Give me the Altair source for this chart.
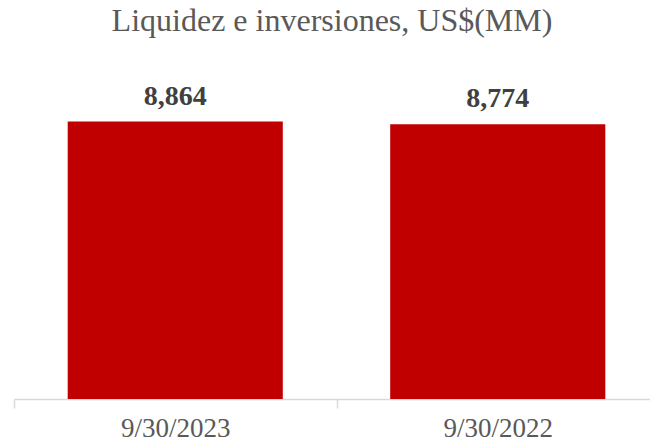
import altair as alt
import pandas as pd

categories = ["9/30/2023", "9/30/2022"]
values = [8864, 8774]
labels = ["8,864", "8,774"]

df = pd.DataFrame({"fecha": categories, "valor": values, "etiqueta": labels})

x = alt.X("fecha:N", sort=categories, title=None,
          scale=alt.Scale(range=[0, 645], paddingInner=0, paddingOuter=0),
          axis=alt.Axis(labelAngle=0, labelFont="Liberation Serif", labelFontSize=27,
                        labelColor="#595959", labelPadding=7, domainColor="#D9D9D9",
                        domainWidth=1.5, tickColor="#D9D9D9", tickWidth=1.5, tickSize=9,
                        tickBand="extent", labelBaseline="top"))
y = alt.Y("valor:Q", scale=alt.Scale(domain=[0, 10000]), axis=None)

bars = alt.Chart(df).mark_bar(color="#C00000", width=alt.RelativeBandSize(0.667)).encode(x=x, y=y)
text = alt.Chart(df).mark_text(font="Liberation Serif", fontSize=28, fontWeight="bold",
                               color="#404040", baseline="alphabetic", dy=-17).encode(
    x=x, y=y, text="etiqueta:N")

chart = (bars + text).properties(
    width=636, height=313,
    padding={"left": 14, "top": 86, "right": 0, "bottom": 44},
    autosize=alt.AutoSizeParams(type="none"),
    title=alt.TitleParams("Liquidez e inversiones, US$(MM)", font="Liberation Serif",
                          fontSize=32, fontWeight="normal", color="#595959",
                          anchor="middle", offset=45),
).configure_view(stroke=None)

chart.save("out.html", embed_options={"renderer": "svg", "actions": False})
